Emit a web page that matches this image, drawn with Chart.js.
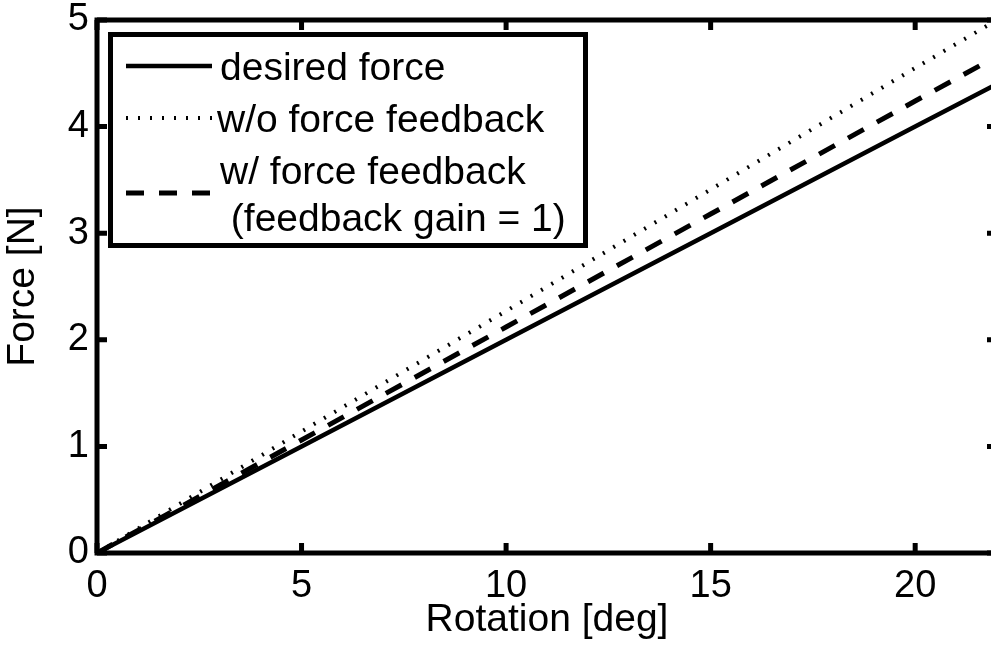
<!DOCTYPE html>
<html>
<head>
<meta charset="utf-8">
<script src="https://cdn.jsdelivr.net/npm/chart.js@4"></script>
<style>
  html, body { margin: 0; padding: 0; overflow: hidden; background: #fff; }
  canvas { display: block; }
</style>
</head>
<body>
<canvas id="chart" width="1000" height="647"></canvas>
<script>
// values
const rotation = [0, 5, 10, 15, 20, 22];
const desiredForce = [0, 1, 2, 3, 4, 4.4];
const withoutFeedback = [0, 1.14, 2.27, 3.41, 4.55, 5.0];
const withFeedback = [0, 1.06, 2.12, 3.18, 4.24, 4.66];
const xTicks = [0, 5, 10, 15, 20];
const yTicks = [0, 1, 2, 3, 4, 5];
const legendLabels = ["desired force", "w/o force feedback", ["w/ force feedback", " (feedback gain = 1)"]];

const FONT = "'Liberation Sans', Arial, sans-serif";

const toPoints = (ys) => rotation.map((x, i) => ({ x: x, y: ys[i] }));

// box around plot + inward ticks on all four sides
const framePlugin = {
  id: "frame",
  afterDatasetsDraw(chart) {
    const { ctx, chartArea: a, scales } = chart;
    ctx.save();
    ctx.strokeStyle = "#000";
    ctx.lineWidth = 5;
    ctx.strokeRect(a.left, a.top, a.right - a.left, a.bottom - a.top);
    const len = 10;
    xTicks.forEach((v) => {
      const px = scales.x.getPixelForValue(v);
      ctx.beginPath();
      ctx.moveTo(px, a.bottom); ctx.lineTo(px, a.bottom - len);
      ctx.moveTo(px, a.top); ctx.lineTo(px, a.top + len);
      ctx.stroke();
    });
    yTicks.forEach((v) => {
      const py = scales.y.getPixelForValue(v);
      ctx.beginPath();
      ctx.moveTo(a.left, py); ctx.lineTo(a.left + len, py);
      ctx.moveTo(a.right, py); ctx.lineTo(a.right - len, py);
      ctx.stroke();
    });
    ctx.restore();
  }
};

// boxed legend like the matlab one
const legendBoxPlugin = {
  id: "legendBox",
  afterDraw(chart) {
    const ctx = chart.ctx;
    const ds = chart.data.datasets;
    ctx.save();
    ctx.fillStyle = "#fff";
    ctx.fillRect(110, 34, 476, 212);
    ctx.strokeStyle = "#000";
    ctx.lineWidth = 5;
    ctx.strokeRect(110.5, 34.5, 475, 211);

    const rows = [
      { lineY: 66, text: [[220, 69]] },
      { lineY: 118, text: [[217, 121]] },
      { lineY: 193, text: [[220, 173], [220, 220]] }
    ];
    ctx.font = "39px " + FONT;
    ctx.textBaseline = "middle";
    ctx.fillStyle = "#000";
    rows.forEach((r, i) => {
      ctx.beginPath();
      ctx.lineWidth = ds[i].borderWidth;
      ctx.setLineDash(ds[i].borderDash || []);
      ctx.lineCap = "butt";
      ctx.moveTo(126, r.lineY);
      ctx.lineTo(212, r.lineY);
      ctx.stroke();
      const lbl = [].concat(legendLabels[i]);
      lbl.forEach((t, j) => ctx.fillText(t, r.text[j][0], r.text[j][1]));
    });
    ctx.restore();
  }
};

new Chart(document.getElementById("chart"), {
  type: "line",
  data: {
    datasets: [
      {
        label: "desired force",
        data: toPoints(desiredForce),
        borderColor: "#000",
        borderWidth: 4.5,
        borderDash: [],
        pointRadius: 0,
        tension: 0
      },
      {
        label: "w/o force feedback",
        data: toPoints(withoutFeedback),
        borderColor: "#000",
        borderWidth: 4,
        borderDash: [2, 10],
        pointRadius: 0,
        tension: 0
      },
      {
        label: "w/ force feedback (feedback gain = 1)",
        data: toPoints(withFeedback),
        borderColor: "#000",
        borderWidth: 5,
        borderDash: [18, 15],
        pointRadius: 0,
        tension: 0
      }
    ]
  },
  options: {
    responsive: false,
    animation: false,
    layout: { padding: { left: 0, right: 3, top: 20, bottom: 0 } },
    scales: {
      x: {
        type: "linear",
        min: 0,
        max: 22,
        afterFit: (s) => { s.height = 94; },
        afterBuildTicks: (s) => { s.ticks = xTicks.map((v) => ({ value: v })); },
        grid: { display: false, drawTicks: false },
        border: { display: false },
        ticks: { color: "#000", padding: 11, font: { family: FONT, size: 38 } },
        title: {
          display: true,
          text: "Rotation [deg]",
          color: "#000",
          padding: { top: 0, bottom: 3 },
          font: { family: FONT, size: 39 }
        }
      },
      y: {
        min: 0,
        max: 5,
        afterFit: (s) => { s.width = 97; s.paddingTop = 0; s.paddingBottom = 0; },
        afterBuildTicks: (s) => { s.ticks = yTicks.map((v) => ({ value: v })); },
        grid: { display: false, drawTicks: false },
        border: { display: false },
        ticks: { color: "#000", padding: 8, font: { family: FONT, size: 38 } },
        title: {
          display: true,
          text: "Force [N]",
          color: "#000",
          padding: { top: 0, bottom: 0 },
          font: { family: FONT, size: 39 }
        }
      }
    },
    plugins: {
      legend: { display: false },
      tooltip: { enabled: false }
    }
  },
  plugins: [framePlugin, legendBoxPlugin]
});
</script>
</body>
</html>
